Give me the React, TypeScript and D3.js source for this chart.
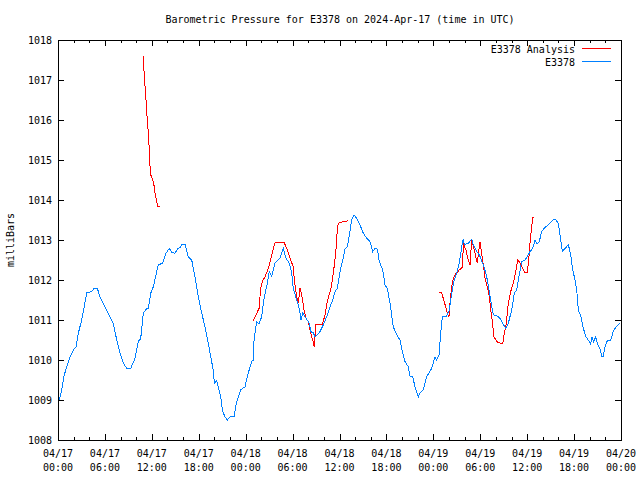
import React from "react";
import * as d3 from "d3";

// Hours since 2024-04-17 00:00 UTC, and pressure in millibars
const blueHours = [0.17,0.47,0.77,1.11,1.53,1.96,2.30,2.60,3.03,3.33,3.67,4.31,4.60,5.03,5.37,6.01,6.65,7.07,7.51,7.93,8.35,8.79,9.30,9.85,10.27,10.58,10.91,11.34,11.55,11.86,12.19,12.53,12.83,13.39,13.81,14.23,14.54,14.96,15.26,15.69,15.82,16.24,16.66,17.10,17.52,17.94,18.38,18.80,19.22,19.53,19.86,19.99,20.30,20.81,21.06,21.36,21.65,22.00,22.51,22.85,23.35,23.91,24.33,24.77,24.98,25.07,25.41,25.70,26.05,26.35,26.77,27.02,27.33,27.54,27.75,28.39,28.74,28.81,29.16,29.58,29.89,30.09,30.53,30.73,30.95,31.08,31.29,31.72,32.14,32.32,32.65,32.87,33.16,33.51,33.93,34.36,34.79,35.13,35.43,35.72,36.07,36.41,36.71,37.00,37.26,37.56,37.86,38.20,38.62,39.04,39.48,39.90,40.25,40.54,40.84,41.09,41.53,41.82,42.11,42.46,42.88,43.32,43.74,44.08,44.38,44.80,45.02,45.36,45.66,46.08,46.30,46.72,47.15,47.79,48.22,48.43,48.73,48.94,49.15,49.71,50.04,50.35,50.68,50.99,51.32,51.63,51.83,51.96,52.47,52.91,53.11,53.55,53.88,54.48,54.83,55.12,55.47,55.67,56.18,56.53,56.87,57.26,57.59,58.02,58.36,58.66,58.87,59.30,59.73,60.01,60.36,60.71,61.00,61.29,61.55,61.85,62.16,62.70,63.13,63.43,63.69,63.98,64.20,64.50,64.84,65.27,65.57,65.83,66.12,66.34,66.54,66.89,67.18,67.53,67.95,68.13,68.29,68.49,68.77,68.99,69.31,69.53,69.73,69.95,70.25,70.68,71.01,71.36,71.87];
const blueValues = [1009.0,1009.25,1009.6,1009.83,1010.08,1010.25,1010.33,1010.67,1011.0,1011.3,1011.68,1011.71,1011.79,1011.79,1011.58,1011.33,1011.08,1010.92,1010.5,1010.17,1009.92,1009.79,1009.79,1010.04,1010.46,1010.54,1011.17,1011.29,1011.29,1011.67,1011.83,1012.13,1012.38,1012.42,1012.67,1012.79,1012.69,1012.67,1012.77,1012.83,1012.9,1012.9,1012.58,1012.5,1012.08,1011.58,1011.17,1010.83,1010.42,1010.08,1009.75,1009.42,1009.48,1009.08,1008.71,1008.58,1008.5,1008.58,1008.58,1008.96,1009.25,1009.33,1009.67,1009.96,1010.0,1010.5,1010.96,1010.9,1011.08,1011.54,1011.92,1012.21,1012.1,1012.25,1012.43,1012.54,1012.75,1012.79,1012.54,1012.42,1012.17,1011.79,1011.5,1011.38,1011.17,1011.0,1011.18,1011.04,1010.92,1010.71,1010.68,1010.58,1010.63,1010.71,1010.88,1011.08,1011.33,1011.5,1011.71,1011.79,1012.21,1012.5,1012.77,1012.83,1013.13,1013.5,1013.63,1013.54,1013.38,1013.17,1013.04,1012.96,1012.71,1012.79,1012.77,1012.46,1012.25,1011.88,1011.79,1011.42,1010.83,1010.63,1010.5,1010.17,1009.96,1009.83,1009.6,1009.58,1009.33,1009.08,1009.18,1009.25,1009.58,1009.79,1010.08,1010.0,1010.13,1010.67,1011.08,1011.1,1011.25,1011.67,1012.0,1012.17,1012.42,1012.83,1013.02,1012.88,1012.92,1013.02,1012.88,1012.71,1012.63,1012.33,1012.08,1011.75,1011.33,1011.13,1011.1,1011.04,1010.92,1010.79,1010.92,1011.25,1011.67,1011.75,1012.0,1012.46,1012.5,1012.58,1012.71,1012.79,1013.0,1012.9,1012.96,1013.21,1013.29,1013.38,1013.46,1013.52,1013.5,1013.42,1013.13,1012.71,1012.79,1012.88,1012.63,1012.25,1012.0,1011.75,1011.25,1011.08,1010.79,1010.58,1010.46,1010.4,1010.58,1010.45,1010.58,1010.4,1010.29,1010.1,1010.1,1010.33,1010.48,1010.5,1010.71,1010.83,1010.92];

// Analysis series: three separate runs
const redHours1 = [10.91,10.95,11.09,11.25,11.38,11.55,11.68,11.77,11.86,12.06,12.24,12.41,12.62,12.75,13.05];
const redValues1 = [1017.6,1017.38,1016.96,1016.52,1016.1,1015.67,1015.25,1014.83,1014.63,1014.54,1014.42,1014.17,1013.96,1013.85,1013.85];
const redHours2 = [24.90,25.32,25.71,25.92,26.13,26.47,26.90,27.33,27.75,28.94,29.25,29.67,30.09,30.22,30.53,30.73,30.95,31.17,31.46,31.72,32.01,32.32,32.57,32.78,32.96,33.80,34.15,34.44,34.70,34.91,35.21,35.52,35.72,35.85,36.49,37.05];
const redValues2 = [1010.96,1011.13,1011.29,1011.79,1011.96,1012.08,1012.29,1012.63,1012.93,1012.93,1012.79,1012.54,1012.33,1012.0,1011.58,1011.42,1011.79,1011.63,1011.25,1011.04,1010.96,1010.67,1010.5,1010.33,1010.88,1010.88,1011.13,1011.46,1011.65,1011.79,1012.17,1012.67,1013.25,1013.42,1013.46,1013.48];
const redHours3 = [48.76,49.06,49.27,49.58,49.78,50.00,50.13,50.35,50.55,50.85,51.32,51.75,51.83,52.17,52.47,52.69,52.91,53.33,53.62,53.96,54.18,54.39,54.61,54.95,55.16,55.34,55.55,55.76,56.11,56.53,56.87,57.04,57.30,57.59,57.89,58.23,58.57,58.79,58.99,59.30,59.73,60.01,60.23,60.36,60.58,60.71,60.92];
const redValues3 = [1011.69,1011.69,1011.54,1011.33,1011.17,1011.08,1011.42,1011.83,1012.04,1012.15,1012.25,1012.33,1012.92,1012.75,1012.5,1012.38,1013.0,1012.67,1012.42,1012.96,1012.67,1012.38,1012.04,1011.79,1011.58,1011.25,1010.96,1010.58,1010.46,1010.42,1010.4,1010.63,1010.88,1011.42,1011.71,1011.92,1012.25,1012.5,1012.46,1012.33,1012.18,1012.18,1012.58,1012.92,1013.33,1013.57,1013.57];

const xTickDates = ["04/17","04/17","04/17","04/17","04/18","04/18","04/18","04/18","04/19","04/19","04/19","04/19","04/20"];
const xTickTimes = ["00:00","06:00","12:00","18:00","00:00","06:00","12:00","18:00","00:00","06:00","12:00","18:00","00:00"];
const yTicks = [1008,1009,1010,1011,1012,1013,1014,1015,1016,1017,1018];

const titleText = "Barometric Pressure for E3378 on 2024-Apr-17 (time in UTC)";
const yLabel = "milliBars";
const seriesNames = ["E3378 Analysis", "E3378"];
const seriesColors = ["#ff0000", "#0080ff"];

const FONT = "'DejaVu Sans Mono', 'Liberation Mono', monospace";

export default function App() {
  const L = 58, R = 621, T = 40, B = 440;
  const x = d3.scaleLinear().domain([0, 72]).range([L, R]);
  const y = d3.scaleLinear().domain([1008, 1018]).range([B, T]);
  const line = d3.line<[number, number]>().x((d) => x(d[0])).y((d) => y(d[1]));
  const zip = (h: number[], v: number[]) => h.map((hh, i) => [hh, v[i]] as [number, number]);

  const blue = line(zip(blueHours, blueValues)) || "";
  const reds = [
    zip(redHours1, redValues1),
    zip(redHours2, redValues2),
    zip(redHours3, redValues3),
  ].map((s) => line(s) || "");

  const majorX = d3.range(0, 73, 6);
  const minorX = d3.range(0, 73, 2).filter((h) => h % 6 !== 0);

  return (
    <svg
      width={640}
      height={480}
      style={{ position: "absolute", left: 0, top: 0, background: "#fff" }}
      fontFamily={FONT}
      fontSize={10}
    >
      <rect x={0} y={0} width={640} height={480} fill="#fff" />
      {/* ticks */}
      <g stroke="#000" strokeWidth={1} shapeRendering="crispEdges">
        {majorX.map((h) => (
          <g key={"mx" + h}>
            <line x1={Math.round(x(h)) + 0.5} x2={Math.round(x(h)) + 0.5} y1={B} y2={B - 6} />
            <line x1={Math.round(x(h)) + 0.5} x2={Math.round(x(h)) + 0.5} y1={T} y2={T + 6} />
          </g>
        ))}
        {minorX.map((h) => (
          <g key={"nx" + h}>
            <line x1={Math.round(x(h)) + 0.5} x2={Math.round(x(h)) + 0.5} y1={B} y2={B - 3} />
            <line x1={Math.round(x(h)) + 0.5} x2={Math.round(x(h)) + 0.5} y1={T} y2={T + 3} />
          </g>
        ))}
        {yTicks.map((v) => (
          <g key={"y" + v}>
            <line x1={L} x2={L + 6} y1={Math.round(y(v)) + 0.5} y2={Math.round(y(v)) + 0.5} />
            <line x1={R} x2={R - 6} y1={Math.round(y(v)) + 0.5} y2={Math.round(y(v)) + 0.5} />
          </g>
        ))}
      </g>
      {/* tick labels */}
      <g fill="#000">
        {yTicks.map((v) => (
          <text key={"yl" + v} x={L - 6} y={y(v) + 4} textAnchor="end">
            {v}
          </text>
        ))}
        {majorX.map((h, i) => (
          <g key={"xl" + h}>
            <text x={x(h)} y={B + 17} textAnchor="middle">{xTickDates[i]}</text>
            <text x={x(h)} y={B + 31} textAnchor="middle">{xTickTimes[i]}</text>
          </g>
        ))}
      </g>
      {/* data */}
      <g fill="none" strokeWidth={1} shapeRendering="crispEdges">
        {reds.map((d, i) => (
          <path key={"r" + i} d={d} stroke={seriesColors[0]} />
        ))}
        <path d={blue} stroke={seriesColors[1]} />
      </g>
      {/* frame */}
      <rect x={L + 0.5} y={T + 0.5} width={R - L} height={B - T} fill="none" stroke="#000" shapeRendering="crispEdges" />
      {/* legend */}
      <g>
        {seriesNames.map((n, i) => (
          <g key={n}>
            <text x={575} y={53 + i * 13} textAnchor="end" fill="#000">{n}</text>
            <line x1={582} x2={611} y1={48.5 + i * 13} y2={48.5 + i * 13} stroke={seriesColors[i]} shapeRendering="crispEdges" />
          </g>
        ))}
      </g>
      <text x={340} y={23} textAnchor="middle" fill="#000">{titleText}</text>
      <text transform={`translate(14,${240}) rotate(-90)`} textAnchor="middle" fill="#000">{yLabel}</text>
    </svg>
  );
}
